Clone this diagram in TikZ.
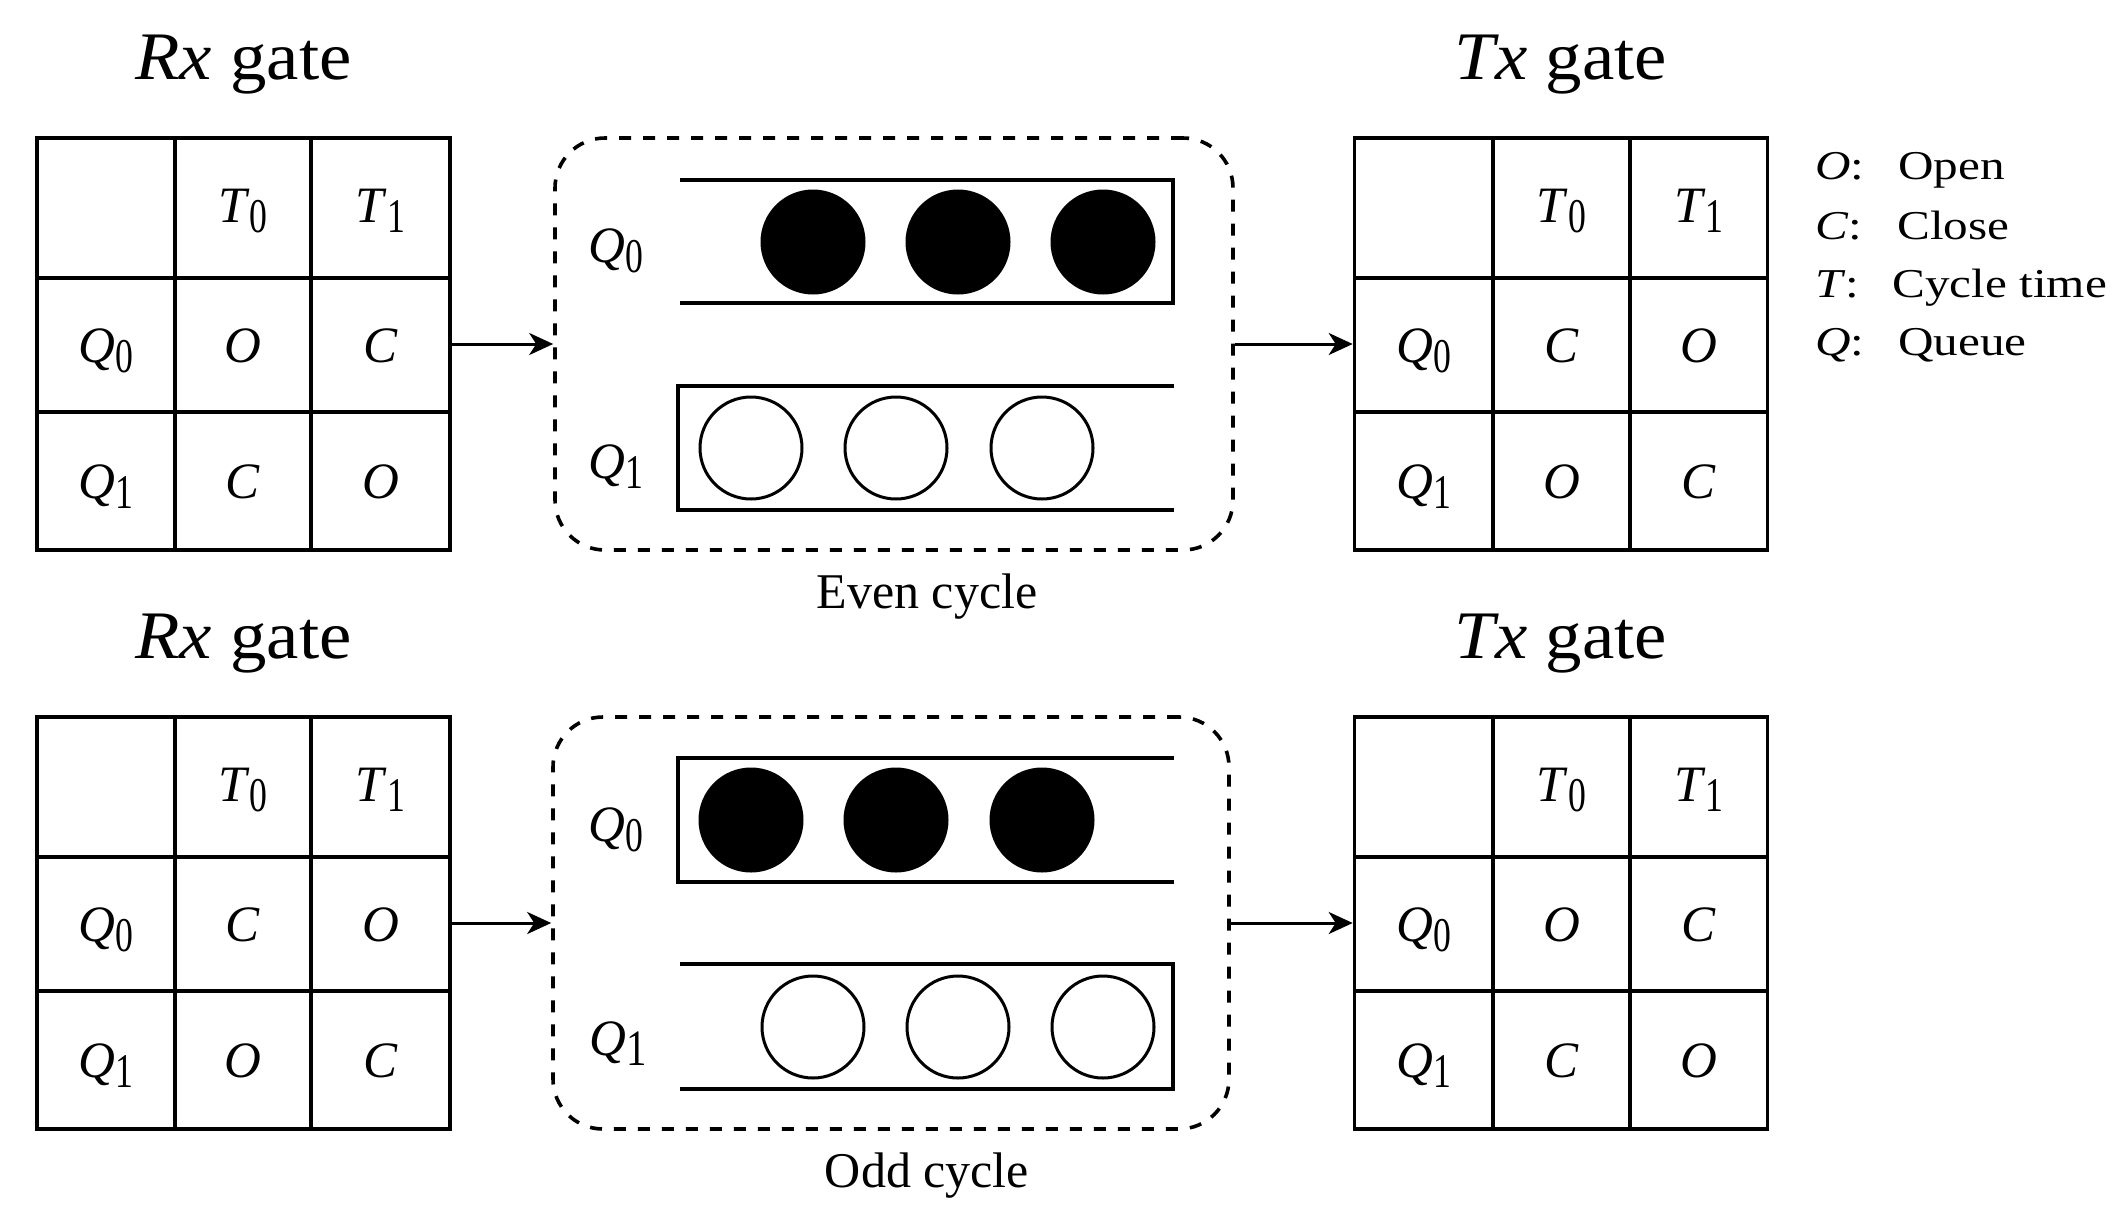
\documentclass[tikz,border=0pt]{standalone}
\usepackage{fontspec}
\usepackage{graphicx}
\setmainfont{Liberation Serif}
\newfontfamily\widefont{Liberation Serif}[FakeStretch=1.2]
\newfontfamily\titlefont{Liberation Serif}[FakeStretch=1.07]
\usetikzlibrary{arrows.meta}
\newcommand\qsub[2]{\textit{#1}\raisebox{-0.2em}{\scalebox{0.7}[0.95]{#2}}}
\begin{document}
\begin{tikzpicture}[x=0.5pt,y=-0.5pt,
  tab/.style={draw, line width=1.8pt, minimum width=206.5pt, minimum height=206pt, inner sep=0pt},
  grid/.style={line width=1.8pt},
  cyc/.style={draw, line width=1.8pt, dash pattern=on 6pt off 6pt, rounded corners=25pt, minimum height=206pt, inner sep=0pt},
  queue/.style={line width=1.7pt, line join=miter},
  ball/.style={circle, draw, line width=1.5pt, minimum size=51pt, inner sep=0pt},
  full/.style={ball, fill=black},
  hollow/.style={ball, fill=white},
  cell/.style={anchor=base, inner sep=0pt, font=\fontsize{25.5}{30}\selectfont},
  ttl/.style={anchor=base, inner sep=0pt, font=\titlefont\fontsize{34}{40}\selectfont},
  leg/.style={anchor=base west, inner sep=0pt, font=\widefont\fontsize{20.5}{24}\selectfont},
  cyclabel/.style={anchor=base, inner sep=0pt, font=\fontsize{25}{30}\selectfont},
  arr/.style={line width=1.5pt, -{Stealth[length=12pt,width=11pt,inset=3.5pt]}},
]
\useasboundingbox (0,0) rectangle (2126,1221);

% ================= UPPER (even cycle) =================
\node[ttl] (rxt1) at (243.5,79) {\textit{Rx} gate};
\node[ttl] (txt1) at (1561,79) {\textit{Tx} gate};

\node[tab] (rx1) at (243.5,344) {};
\draw[grid] (175,138) -- (175,550) (311,138) -- (311,550) (37,278) -- (450,278) (37,412) -- (450,412);
\node[cell] (rx1t0) at (243,222) {\qsub{T}{0}};
\node[cell] (rx1t1) at (380.5,222) {\qsub{T}{1}};
\node[cell] (rx1q0) at (106,362) {\qsub{Q}{0}};
\node[cell] (rx1a) at (243,362) {\textit{O}};
\node[cell] (rx1b) at (380.5,362) {\textit{C}};
\node[cell] (rx1q1) at (106,498) {\qsub{Q}{1}};
\node[cell] (rx1c) at (243,498) {\textit{C}};
\node[cell] (rx1d) at (380.5,498) {\textit{O}};

\node[cyc, minimum width=339pt] (box1) at (894,344) {};
\draw[queue] (680,180) -- (1173,180) -- (1173,303) -- (680,303);
\draw[queue] (1174,386) -- (678,386) -- (678,510) -- (1174,510);
\node[cell] (b1q0) at (616,262) {\qsub{Q}{0}};
\node[cell] (b1q1) at (616,478) {\qsub{Q}{1}};
\node[full] (e0a) at (813,242) {};
\node[full] (e0b) at (958,242) {};
\node[full] (e0c) at (1103,242) {};
\node[hollow] (e1a) at (751,448) {};
\node[hollow] (e1b) at (896,448) {};
\node[hollow] (e1c) at (1042,448) {};
\node[cyclabel] (even) at (927,608) {Even cycle};

\node[tab] (tx1) at (1561,344) {};
\draw[grid] (1493,138) -- (1493,550) (1630,138) -- (1630,550) (1354,278) -- (1768,278) (1354,412) -- (1768,412);
\node[cell] (tx1t0) at (1561.5,222) {\qsub{T}{0}};
\node[cell] (tx1t1) at (1699,222) {\qsub{T}{1}};
\node[cell] (tx1q0) at (1423.5,362) {\qsub{Q}{0}};
\node[cell] (tx1a) at (1561.5,362) {\textit{C}};
\node[cell] (tx1b) at (1699,362) {\textit{O}};
\node[cell] (tx1q1) at (1423.5,498) {\qsub{Q}{1}};
\node[cell] (tx1c) at (1561.5,498) {\textit{O}};
\node[cell] (tx1d) at (1699,498) {\textit{C}};

\draw[arr] (rx1.east) -- (box1.west);
\draw[arr] (box1.east) -- (tx1.west);

% legend
\node[leg] (lo) at (1815,179) {\textit{O}:};
\node[leg] (lc) at (1815,239) {\textit{C}:};
\node[leg] (lt) at (1815,297) {\textit{T}:};
\node[leg] (lq) at (1815,355) {\textit{Q}:};
\node[leg] (lopen) at (1898,179) {Open};
\node[leg] (lclose) at (1897,239) {Close};
\node[leg] (ltime) at (1892,297) {Cycle time};
\node[leg] (lqueue) at (1898,355) {Queue};

% ================= LOWER (odd cycle) =================
\node[ttl] (rxt2) at (243.5,658) {\textit{Rx} gate};
\node[ttl] (txt2) at (1561,658) {\textit{Tx} gate};

\node[tab] (rx2) at (243.5,923) {};
\draw[grid] (175,717) -- (175,1129) (311,717) -- (311,1129) (37,857) -- (450,857) (37,991) -- (450,991);
\node[cell] (rx2t0) at (243,801) {\qsub{T}{0}};
\node[cell] (rx2t1) at (380.5,801) {\qsub{T}{1}};
\node[cell] (rx2q0) at (106,941) {\qsub{Q}{0}};
\node[cell] (rx2a) at (243,941) {\textit{C}};
\node[cell] (rx2b) at (380.5,941) {\textit{O}};
\node[cell] (rx2q1) at (106,1077) {\qsub{Q}{1}};
\node[cell] (rx2c) at (243,1077) {\textit{O}};
\node[cell] (rx2d) at (380.5,1077) {\textit{C}};

\node[cyc, minimum width=338pt] (box2) at (891,923) {};
\draw[queue] (1174,758) -- (678,758) -- (678,882) -- (1174,882);
\draw[queue] (680,964) -- (1173,964) -- (1173,1089) -- (680,1089);
\node[cell] (b2q0) at (616,841) {\qsub{Q}{0}};
\node[cell] (b2q1) at (618,1055) {\textit{Q}\raisebox{-0.2em}{\scalebox{0.8}[1]{1}}};
\node[full] (o0a) at (751,820) {};
\node[full] (o0b) at (896,820) {};
\node[full] (o0c) at (1042,820) {};
\node[hollow] (o1a) at (813,1027) {};
\node[hollow] (o1b) at (958,1027) {};
\node[hollow] (o1c) at (1103,1027) {};
\node[cyclabel] (odd) at (927,1187) {Odd cycle};

\node[tab] (tx2) at (1561,923) {};
\draw[grid] (1493,717) -- (1493,1129) (1630,717) -- (1630,1129) (1354,857) -- (1768,857) (1354,991) -- (1768,991);
\node[cell] (tx2t0) at (1561.5,801) {\qsub{T}{0}};
\node[cell] (tx2t1) at (1699,801) {\qsub{T}{1}};
\node[cell] (tx2q0) at (1423.5,941) {\qsub{Q}{0}};
\node[cell] (tx2a) at (1561.5,941) {\textit{O}};
\node[cell] (tx2b) at (1699,941) {\textit{C}};
\node[cell] (tx2q1) at (1423.5,1077) {\qsub{Q}{1}};
\node[cell] (tx2c) at (1561.5,1077) {\textit{C}};
\node[cell] (tx2d) at (1699,1077) {\textit{O}};

\draw[arr] (rx2.east) -- (box2.west);
\draw[arr] (box2.east) -- (tx2.west);
\end{tikzpicture}
\end{document}
